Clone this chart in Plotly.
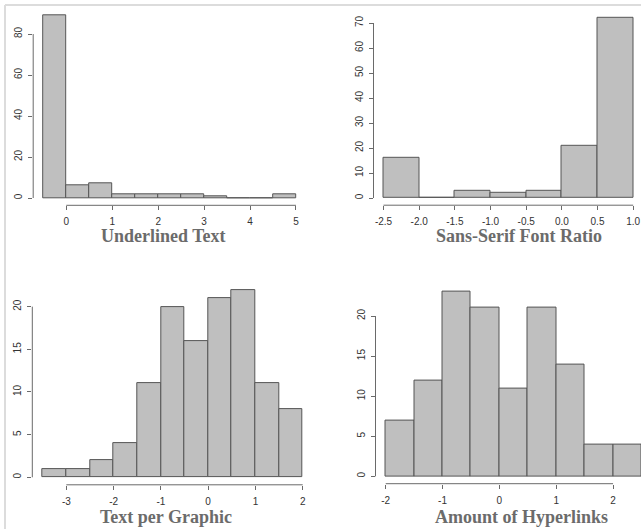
import numpy as np
import plotly.graph_objects as go

W, H = 641, 529

# ---------------- data ----------------
underlined_edges = [-0.5, 0, 0.5, 1, 1.5, 2, 2.5, 3, 3.5, 4, 4.5, 5]
underlined_counts = [89, 6, 7, 2, 2, 2, 2, 1, 0, 0, 2]
underlined_xticks = [0, 1, 2, 3, 4, 5]
underlined_xlabels = ["0", "1", "2", "3", "4", "5"]
underlined_yticks = [0, 20, 40, 60, 80]

sans_edges = [-2.5, -2.0, -1.5, -1.0, -0.5, 0.0, 0.5, 1.0]
sans_counts = [16, 0, 3, 2, 3, 21, 72]
sans_xticks = [-2.5, -2.0, -1.5, -1.0, -0.5, 0.0, 0.5, 1.0]
sans_xlabels = ["-2.5", "-2.0", "-1.5", "-1.0", "-0.5", "0.0", "0.5", "1.0"]
sans_yticks = [0, 10, 20, 30, 40, 50, 60, 70]

textgfx_edges = [-3.5, -3, -2.5, -2, -1.5, -1, -0.5, 0, 0.5, 1, 1.5, 2]
textgfx_counts = [1, 1, 2, 4, 11, 20, 16, 21, 22, 11, 8]
textgfx_xticks = [-3, -2, -1, 0, 1, 2]
textgfx_xlabels = ["-3", "-2", "-1", "0", "1", "2"]
textgfx_yticks = [0, 5, 10, 15, 20]

hyper_edges = [-2, -1.5, -1, -0.5, 0, 0.5, 1, 1.5, 2, 2.5]
hyper_counts = [7, 12, 23, 21, 11, 21, 14, 4, 4]
hyper_xticks = [-2, -1, 0, 1, 2]
hyper_xlabels = ["-2", "-1", "0", "1", "2"]
hyper_yticks = [0, 5, 10, 15, 20]

titles = ["Underlined Text", "Sans-Serif Font Ratio", "Text per Graphic", "Amount of Hyperlinks"]

# ---------------- layout (pixel geometry) ----------------
panels = [
    dict(edges=underlined_edges, counts=underlined_counts, xt=underlined_xticks, xl=underlined_xlabels,
         yt=underlined_yticks, px=(33.2, 306.1, 8.3, 205.3), title_xy=(163, 236)),
    dict(edges=sans_edges, counts=sans_counts, xt=sans_xticks, xl=sans_xlabels,
         yt=sans_yticks, px=(373.5, 641, 10.8, 205.2), clip_scale=71.34, title_xy=(519, 236)),
    dict(edges=textgfx_edges, counts=textgfx_counts, xt=textgfx_xticks, xl=textgfx_xlabels,
         yt=textgfx_yticks, px=(32.3, 313.1, 282.1, 484.8), title_xy=(166, 517)),
    dict(edges=hyper_edges, counts=hyper_counts, xt=hyper_xticks, xl=hyper_xlabels,
         yt=hyper_yticks, px=(375.5, 641, 284.6, 483.7), clip_scale=56.83, title_xy=(521, 517)),
]

BAR_FILL = "#bfbfbf"
BAR_LINE = "#555555"
AXIS_COL = "#6a6a6a"
TICK_FONT = dict(family="Liberation Sans, Arial, sans-serif", size=10, color="#333333")
TITLE_FONT = dict(family="Liberation Serif, Times New Roman, serif", size=18, color="#6b6b6b")

fig = go.Figure()
shapes = []
annotations = []
layout = {}

for i, p in enumerate(panels, start=1):
    edges = np.array(p["edges"], dtype=float)
    counts = np.array(p["counts"], dtype=float)
    centers = (edges[:-1] + edges[1:]) / 2
    widths = np.diff(edges)

    xa = "x" if i == 1 else f"x{i}"
    ya = "y" if i == 1 else f"y{i}"

    fig.add_trace(go.Bar(
        x=centers, y=counts, width=widths,
        marker=dict(color=BAR_FILL, line=dict(color=BAR_LINE, width=1)),
        xaxis=xa, yaxis=ya, showlegend=False, hoverinfo="x+y",
    ))

    # R-style usr extents (4% padding)
    xmin, xmax = edges[0], edges[-1]
    span = xmax - xmin
    xr = [xmin - 0.04 * span, xmax + 0.04 * span]
    ymax = counts.max()
    yr = [-0.04 * ymax, 1.04 * ymax]

    l, r, t, b = p["px"]
    if "clip_scale" in p:
        xr[1] = xr[0] + (r - l) / p["clip_scale"]

    xkey = "xaxis" if i == 1 else f"xaxis{i}"
    ykey = "yaxis" if i == 1 else f"yaxis{i}"
    layout[xkey] = dict(
        domain=[l / W, r / W], range=xr, anchor=ya,
        showgrid=False, zeroline=False, showline=False,
        tickmode="array", tickvals=p["xt"], ticktext=p["xl"],
        ticks="outside", ticklen=4, tickcolor=AXIS_COL, tickwidth=1,
        tickfont=TICK_FONT, ticklabelstandoff=3, fixedrange=True,
    )
    layout[ykey] = dict(
        domain=[1 - b / H, 1 - t / H], range=yr, anchor=xa,
        showgrid=False, zeroline=False, showline=False,
        tickmode="array", tickvals=p["yt"], ticktext=[str(v) for v in p["yt"]],
        ticks="outside", ticklen=4, tickcolor=AXIS_COL, tickwidth=1,
        tickangle=-90, tickfont=TICK_FONT, ticklabelstandoff=2, fixedrange=True,
    )

    shapes.append(dict(type="line", xref=xa, yref=f"{ya} domain",
                       x0=p["xt"][0], x1=p["xt"][-1], y0=0, y1=0,
                       line=dict(color=AXIS_COL, width=1)))
    shapes.append(dict(type="line", xref=f"{xa} domain", yref=ya,
                       x0=0, x1=0, y0=p["yt"][0], y1=p["yt"][-1],
                       line=dict(color=AXIS_COL, width=1)))

    tx, ty = p["title_xy"]
    annotations.append(dict(text=f"<b>{titles[i-1]}</b>", xref="paper", yref="paper",
                            x=tx / W, y=1 - ty / H, xanchor="center", yanchor="middle",
                            showarrow=False, font=TITLE_FONT))

# light border of the original picture (top and left)
shapes.append(dict(type="line", xref="paper", yref="paper", x0=5 / W, x1=1, y0=1 - 5 / H, y1=1 - 5 / H,
                   line=dict(color="#dcdcdc", width=2)))
shapes.append(dict(type="line", xref="paper", yref="paper", x0=5 / W, x1=5 / W, y0=0, y1=1 - 5 / H,
                   line=dict(color="#dcdcdc", width=2)))

fig.update_layout(
    width=W, height=H, margin=dict(l=0, r=0, t=0, b=0),
    paper_bgcolor="white", plot_bgcolor="white",
    bargap=0, shapes=shapes, annotations=annotations,
    **layout,
)

fig.write_html("out.html", config={"displayModeBar": False},
               post_script="document.body.style.margin='0';document.body.style.overflow='hidden';")
